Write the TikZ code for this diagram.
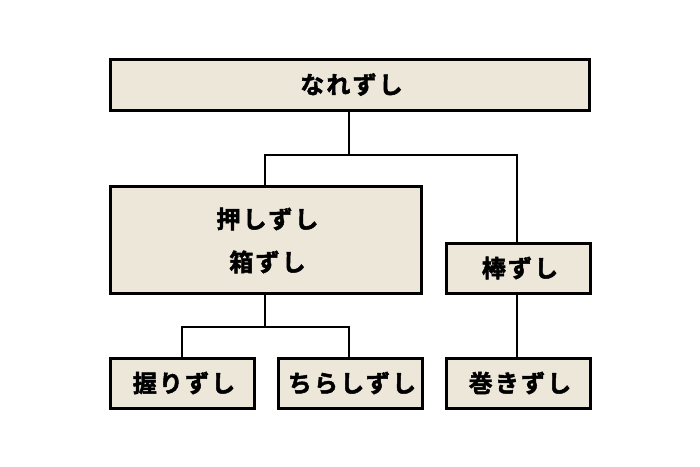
\documentclass[tikz,border=0pt]{standalone}
\usepackage{fontspec}
\newfontfamily\jp{Noto Sans CJK JP}[BoldFont={Noto Sans CJK JP Bold}, BoldFeatures={FakeBold=2}, LetterSpace=9]
\definecolor{boxfill}{HTML}{EDE7DA}
\tikzset{
  sbox/.style={draw=black, line width=3pt, fill=boxfill, inner sep=0pt, outer sep=0pt, anchor=north west},
  lbl/.style={font=\jp\bfseries\fontsize{24}{30}\selectfont, align=center},
  conn/.style={draw=black, line width=2pt}
}
\begin{document}
\begin{tikzpicture}[x=1pt,y=-1pt]
\useasboundingbox (0,0) rectangle (700,466);
% boxes
\node[sbox, minimum width=479pt, minimum height=51pt] (top) at (110,59) {};
\node[sbox, minimum width=311pt, minimum height=107pt] (oshi) at (110,186) {};
\node[sbox, minimum width=144pt, minimum height=50pt] (bou) at (446,243) {};
\node[sbox, minimum width=144pt, minimum height=50pt] (nigiri) at (110,358) {};
\node[sbox, minimum width=144pt, minimum height=50pt] (chirashi) at (278,358) {};
\node[sbox, minimum width=144pt, minimum height=50pt] (maki) at (446,358) {};
% labels
\node[lbl] (tl) at ([xshift=2pt]top.center) {なれずし};
\node[lbl] (ol) at ([xshift=2pt,yshift=-1pt]oshi.center) {押しずし\\[13pt]箱ずし};
\node[lbl] (bl) at ([xshift=2pt]bou.center) {棒ずし};
\node[lbl] (nl) at ([xshift=2pt]nigiri.center) {握りずし};
\node[lbl] (cl) at ([xshift=2pt]chirashi.center) {ちらしずし};
\node[lbl] (ml) at ([xshift=2pt]maki.center) {巻きずし};
% connectors
\coordinate (j1) at (349,155);
\coordinate (j2) at (265,327);
\draw[conn] (top.south -| j1) -- (j1) -| (oshi.north -| 265,0);
\draw[conn] (j1) -| (bou.north -| 517,0);
\draw[conn] (oshi.south -| j2) -- (j2) -| (nigiri.north -| 182,0);
\draw[conn] (j2) -| (chirashi.north -| 349,0);
\draw[conn] (bou.south -| 517,0) -- (maki.north -| 517,0);
\end{tikzpicture}
\end{document}
